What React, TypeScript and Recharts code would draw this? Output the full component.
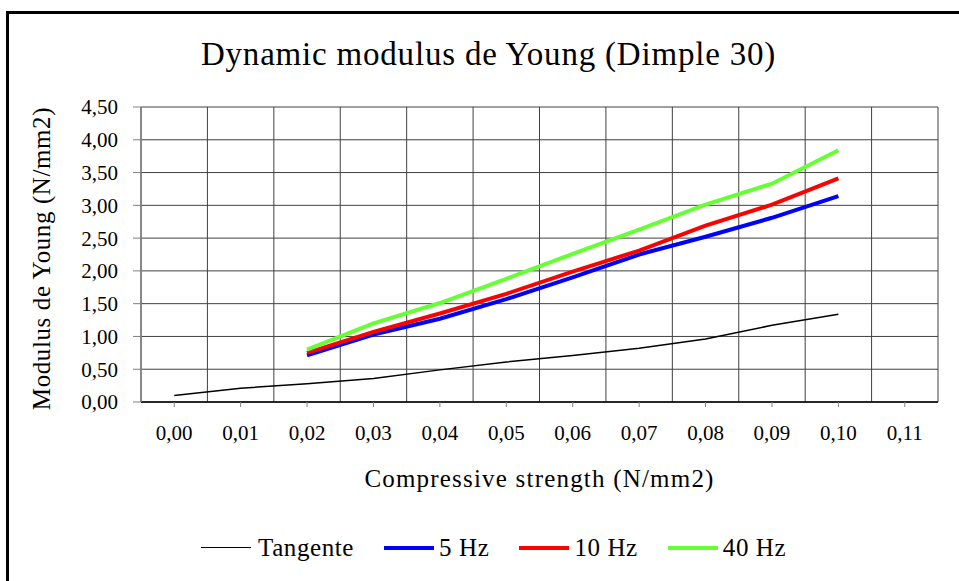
import React from "react";
import { LineChart, Line, XAxis, YAxis, CartesianGrid } from "recharts";

const categories = ["0,00", "0,01", "0,02", "0,03", "0,04", "0,05", "0,06", "0,07", "0,08", "0,09", "0,10", "0,11"];
const tangente = [0.1, 0.21, 0.28, 0.36, 0.49, 0.61, 0.71, 0.82, 0.96, 1.17, 1.34, null];
const hz5 = [null, null, 0.71, 1.03, 1.27, 1.57, 1.9, 2.25, 2.52, 2.81, 3.14, null];
const hz10 = [null, null, 0.75, 1.07, 1.35, 1.65, 1.99, 2.31, 2.69, 3.01, 3.41, null];
const hz40 = [null, null, 0.8, 1.2, 1.51, 1.88, 2.26, 2.63, 3.01, 3.33, 3.84, null];
const yTicks = [0, 0.5, 1, 1.5, 2, 2.5, 3, 3.5, 4, 4.5];

const series = [
  { key: "tangente", name: "Tangente", color: "#000000", width: 1.5 },
  { key: "hz5", name: "5 Hz", color: "#0000ff", width: 4 },
  { key: "hz10", name: "10 Hz", color: "#ff0000", width: 4 },
  { key: "hz40", name: "40 Hz", color: "#66ff33", width: 4 },
];

const data = categories.map((c, i) => ({
  x: i,
  tangente: tangente[i],
  hz5: hz5[i],
  hz10: hz10[i],
  hz40: hz40[i],
}));

const xTicks = categories.map((_, i) => i);
const gridTicks = [...xTicks.map((i) => i - 0.5), categories.length - 0.5];

const FONT = "'Liberation Serif', 'Times New Roman', serif";
const fmt = (v: number) => v.toFixed(2).replace(".", ",");
const tickStyle = { fill: "#000", fontSize: 21, fontFamily: FONT };

export default function App() {
  return (
    <div style={{ position: "absolute", left: 0, top: 0, width: 959, height: 581, overflow: "hidden", background: "#fff", fontFamily: FONT }}>
      {/* frame, cut off on the right and bottom like the source */}
      <div style={{ position: "absolute", left: 6, top: 11, width: 3, height: 570, background: "#000" }} />
      <div style={{ position: "absolute", left: 6, top: 11, width: 953, height: 3, background: "#000" }} />

      <div style={{ position: "absolute", left: 0, width: 977, top: 38, textAlign: "center", fontSize: 33, lineHeight: 1, letterSpacing: 0.8 }}>
        Dynamic modulus de Young (Dimple 30)
      </div>

      <div style={{ position: "absolute", left: 0, top: 0 }}>
        <LineChart width={959} height={581} data={data} margin={{ top: 107, right: 21, bottom: 149, left: 0 }} style={{ fontFamily: FONT }}>
          <CartesianGrid xAxisId="grid" stroke="#404040" strokeWidth={1} />
          <XAxis xAxisId="grid" dataKey="x" type="number" domain={[-0.5, categories.length - 0.5]} ticks={gridTicks} interval={0} hide />
          <XAxis
            dataKey="x"
            type="number"
            domain={[-0.5, categories.length - 0.5]}
            ticks={xTicks}
            interval={0}
            tickFormatter={(i: number) => categories[i]}
            height={30}
            tickSize={5}
            tickMargin={18}
            axisLine={{ stroke: "#000", strokeWidth: 1.5 }}
            tickLine={{ stroke: "#808080" }}
            tick={tickStyle}
          />
          <YAxis
            domain={[0, 4.5]}
            ticks={yTicks}
            interval={0}
            tickFormatter={fmt}
            width={141}
            tickSize={8}
            tickMargin={15}
            axisLine={{ stroke: "#808080", strokeWidth: 1.5 }}
            tickLine={{ stroke: "#808080" }}
            tick={tickStyle}
          />
          {series.map((s) => (
            <Line
              key={s.key}
              dataKey={s.key}
              name={s.name}
              stroke={s.color}
              strokeWidth={s.width}
              dot={false}
              type="linear"
              isAnimationActive={false}
            />
          ))}
        </LineChart>
      </div>

      <div
        style={{
          position: "absolute",
          left: 41 - 200,
          top: 258 - 12.5,
          width: 400,
          height: 25,
          textAlign: "center",
          fontSize: 25,
          lineHeight: 1,
          letterSpacing: 0.6,
          transform: "rotate(-90deg)",
          whiteSpace: "nowrap",
        }}
      >
        Modulus de Young (N/mm2)
      </div>

      <div style={{ position: "absolute", left: 141, width: 797, top: 466, textAlign: "center", fontSize: 25, lineHeight: 1, letterSpacing: 1.2 }}>
        Compressive strength (N/mm2)
      </div>

      <div style={{ position: "absolute", left: 201, top: 535, display: "flex", alignItems: "center", fontSize: 25, lineHeight: 1, letterSpacing: 0.6 }}>
        {series.map((s, i) => (
          <div key={s.key} style={{ display: "flex", alignItems: "center", marginLeft: i === 0 ? 0 : 30 }}>
            <div style={{ width: 50, height: s.width, background: s.color, marginRight: i === 0 ? 7 : 5 }} />
            <span>{s.name}</span>
          </div>
        ))}
      </div>
    </div>
  );
}
